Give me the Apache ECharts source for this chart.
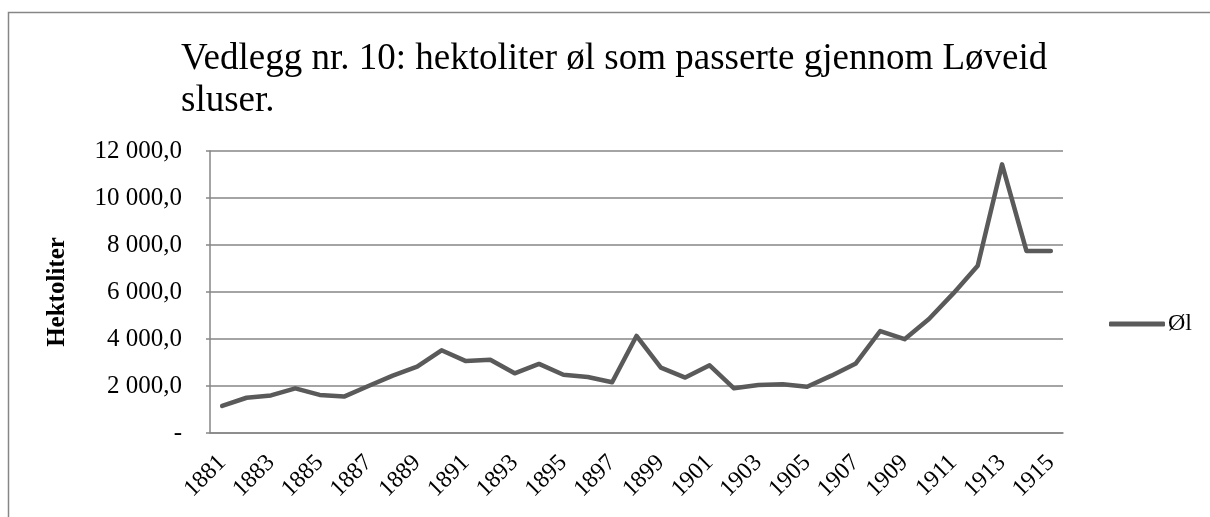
<!DOCTYPE html>
<html>
<head>
<meta charset="utf-8">
<script src="https://cdn.jsdelivr.net/npm/echarts@6/dist/echarts.min.js"></script>
<style>
  html, body { margin: 0; padding: 0; background: #fff; }
  #main { width: 1210px; height: 517px; }
</style>
</head>
<body>
<div id="main"></div>
<script>
// årstall
var years = ['1881','1882','1883','1884','1885','1886','1887','1888','1889','1890',
             '1891','1892','1893','1894','1895','1896','1897','1898','1899','1900',
             '1901','1902','1903','1904','1905','1906','1907','1908','1909','1910',
             '1911','1912','1913','1914','1915'];
// hektoliter øl
var ol = [1150, 1500, 1600, 1900, 1620, 1550, 2000, 2440, 2820, 3520,
          3060, 3120, 2540, 2940, 2480, 2380, 2160, 4130, 2780, 2360,
          2880, 1900, 2040, 2070, 1970, 2440, 2960, 4340, 3990, 4850,
          5940, 7120, 11430, 7750, 7750];
var yTicks = [0, 2000, 4000, 6000, 8000, 10000, 12000];

var font = 'Liberation Serif';

function fmt(v) {
    if (v === 0) return '-';
    var s = String(Math.round(v));
    s = s.replace(/\B(?=(\d{3})+(?!\d))/g, ' ');
    return s + ',0';
}

var myChart = echarts.init(document.getElementById('main'));
var option = {
    backgroundColor: '#fff',
    animation: false,
    textStyle: { fontFamily: font, color: '#000' },
    title: {
        text: 'Vedlegg nr. 10: hektoliter øl som passerte gjennom Løveid\nsluser.',
        left: 176,
        top: 33,
        textStyle: {
            fontFamily: font,
            fontWeight: 'normal',
            fontSize: 37,
            lineHeight: 42,
            color: '#000'
        }
    },
    legend: {
        left: 1104,
        top: 307,
        itemWidth: 56,
        itemHeight: 5,
        itemGap: 5,
        icon: 'roundRect',
        textStyle: { fontFamily: font, fontSize: 24, color: '#000', padding: [0, 0, 0, -2] },
        data: ['Øl']
    },
    grid: { left: 210, right: 147, top: 151, bottom: 84 },
    xAxis: {
        type: 'category',
        data: years,
        boundaryGap: true,
        axisLine: { lineStyle: { color: '#868686', width: 1.5 } },
        axisTick: { show: false },
        axisLabel: {
            interval: 1,
            rotate: 45,
            margin: 26,
            fontFamily: font,
            fontSize: 24,
            color: '#000'
        }
    },
    yAxis: {
        type: 'value',
        min: 0,
        max: 12000,
        interval: 2000,
        name: 'Hektoliter',
        nameLocation: 'middle',
        nameGap: 140,
        nameTextStyle: { fontFamily: font, fontWeight: 'bold', fontSize: 25, color: '#000' },
        axisLine: { show: true, lineStyle: { color: '#868686', width: 1.5 } },
        axisTick: { show: true, length: 4, lineStyle: { color: '#868686', width: 1.5 } },
        splitLine: { lineStyle: { color: '#868686', width: 1.5 } },
        axisLabel: {
            margin: 28,
            fontFamily: font,
            fontSize: 25,
            color: '#000',
            formatter: fmt
        }
    },
    graphic: [{
        type: 'rect',
        shape: { x: 8.5, y: 12.5, width: 1400, height: 700 },
        style: { fill: 'none', stroke: '#868686', lineWidth: 1.5 },
        silent: true
    }],
    series: [{
        name: 'Øl',
        type: 'line',
        data: ol,
        symbol: 'none',
        lineStyle: { color: '#5a5a5a', width: 4.5, cap: 'round', join: 'round' },
        itemStyle: { color: '#5a5a5a' }
    }]
};
myChart.setOption(option);
</script>
</body>
</html>
